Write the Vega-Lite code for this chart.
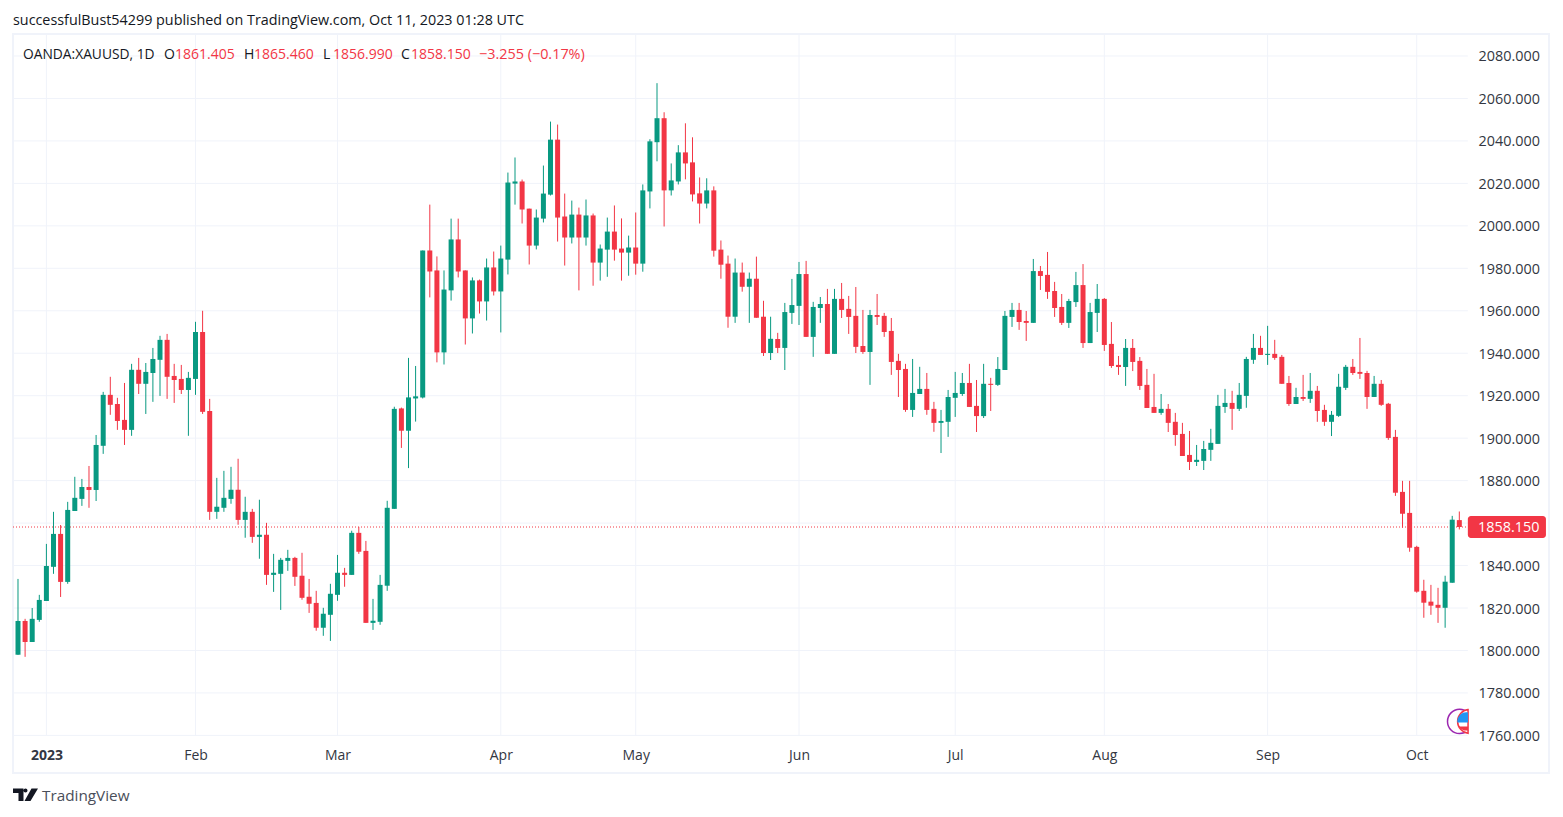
{
"$schema":"https://vega.github.io/schema/vega-lite/v6.json",
"autosize":"none","width":1536,"height":739,
"padding":{"left":13,"top":34,"right":14,"bottom":44},
"background":"white",
"config":{"view":{"stroke":"#f0f3fa","strokeWidth":2},"font":"Open Sans"},
"datasets":{
"levels":[{"p":1760},{"p":1780},{"p":1800},{"p":1820},{"p":1840},{"p":1860},{"p":1880},{"p":1900},{"p":1920},{"p":1940},{"p":1960},{"p":1980},{"p":2000},{"p":2020},{"p":2040},{"p":2060},{"p":2080}],
"months":[{"i":4},{"i":25},{"i":45},{"i":68},{"i":87},{"i":110},{"i":132},{"i":153},{"i":176},{"i":197}],
"candles":[
{"i":0,"date":"2022-12-27","o":1798,"h":1833.7,"l":1797.9,"c":1813.9},
{"i":1,"date":"2022-12-28","o":1813.9,"h":1814.9,"l":1797,"c":1804},
{"i":2,"date":"2022-12-29","o":1804,"h":1820,"l":1804,"c":1814.9},
{"i":3,"date":"2022-12-30","o":1814.4,"h":1826.2,"l":1813.5,"c":1823.8},
{"i":4,"date":"2023-01-03","o":1823.3,"h":1850.2,"l":1823.3,"c":1839.8},
{"i":5,"date":"2023-01-04","o":1839.4,"h":1865.3,"l":1836.1,"c":1854.9},
{"i":6,"date":"2023-01-05","o":1854.9,"h":1859.1,"l":1825.2,"c":1832.3},
{"i":7,"date":"2023-01-06","o":1832.3,"h":1870,"l":1831.4,"c":1866.2},
{"i":8,"date":"2023-01-09","o":1865.7,"h":1881.8,"l":1865.7,"c":1871.9},
{"i":9,"date":"2023-01-10","o":1871.4,"h":1880.8,"l":1868.1,"c":1877},
{"i":10,"date":"2023-01-11","o":1877,"h":1886.9,"l":1867.2,"c":1875.6},
{"i":11,"date":"2023-01-12","o":1875.6,"h":1901.5,"l":1870.4,"c":1896.8},
{"i":12,"date":"2023-01-13","o":1896.4,"h":1921.8,"l":1892.6,"c":1920.4},
{"i":13,"date":"2023-01-16","o":1920.4,"h":1928.9,"l":1911,"c":1915.7},
{"i":14,"date":"2023-01-17","o":1916.1,"h":1919,"l":1903.9,"c":1908.1},
{"i":15,"date":"2023-01-18","o":1908.6,"h":1926,"l":1896.8,"c":1903.9},
{"i":16,"date":"2023-01-19","o":1903.9,"h":1935,"l":1901.1,"c":1932.2},
{"i":17,"date":"2023-01-20","o":1932.2,"h":1937.8,"l":1920.8,"c":1925.6},
{"i":18,"date":"2023-01-23","o":1925.6,"h":1935.4,"l":1911.4,"c":1931.2},
{"i":19,"date":"2023-01-24","o":1930.7,"h":1942.5,"l":1917.1,"c":1937.3},
{"i":20,"date":"2023-01-25","o":1936.9,"h":1948.2,"l":1919.9,"c":1946.3},
{"i":21,"date":"2023-01-26","o":1946.3,"h":1949.1,"l":1918.5,"c":1928.9},
{"i":22,"date":"2023-01-27","o":1929.3,"h":1935,"l":1916.6,"c":1927.4},
{"i":23,"date":"2023-01-30","o":1927.9,"h":1934.5,"l":1920.8,"c":1922.7},
{"i":24,"date":"2023-01-31","o":1922.7,"h":1931.2,"l":1901.1,"c":1928.4},
{"i":25,"date":"2023-02-01","o":1927.9,"h":1954.8,"l":1920.4,"c":1950},
{"i":26,"date":"2023-02-02","o":1950,"h":1960,"l":1911.4,"c":1912.4},
{"i":27,"date":"2023-02-03","o":1912.8,"h":1918.5,"l":1861.5,"c":1865.3},
{"i":28,"date":"2023-02-06","o":1865.3,"h":1881.3,"l":1862,"c":1867.7},
{"i":29,"date":"2023-02-07","o":1867.2,"h":1884.6,"l":1865.3,"c":1871.9},
{"i":30,"date":"2023-02-08","o":1871.4,"h":1886.5,"l":1869.1,"c":1875.7},
{"i":31,"date":"2023-02-09","o":1875.7,"h":1890.3,"l":1859.2,"c":1861.5},
{"i":32,"date":"2023-02-10","o":1861.5,"h":1872.4,"l":1853.1,"c":1865.3},
{"i":33,"date":"2023-02-13","o":1865.3,"h":1866.7,"l":1850.7,"c":1853.5},
{"i":34,"date":"2023-02-14","o":1853.5,"h":1871,"l":1843.2,"c":1854.5},
{"i":35,"date":"2023-02-15","o":1854.5,"h":1860.1,"l":1830.9,"c":1835.6},
{"i":36,"date":"2023-02-16","o":1835.6,"h":1845.5,"l":1827.6,"c":1836.6},
{"i":37,"date":"2023-02-17","o":1836.1,"h":1843.6,"l":1819.1,"c":1842.7},
{"i":38,"date":"2023-02-20","o":1842.2,"h":1847.4,"l":1837.5,"c":1843.6},
{"i":39,"date":"2023-02-21","o":1843.6,"h":1844.1,"l":1830.4,"c":1834.7},
{"i":40,"date":"2023-02-22","o":1835.2,"h":1846,"l":1823.9,"c":1824.8},
{"i":41,"date":"2023-02-23","o":1825.3,"h":1833.7,"l":1817.7,"c":1822},
{"i":42,"date":"2023-02-24","o":1822.4,"h":1828.1,"l":1809.3,"c":1810.7},
{"i":43,"date":"2023-02-27","o":1810.7,"h":1820.1,"l":1806.9,"c":1817.3},
{"i":44,"date":"2023-02-28","o":1816.8,"h":1831.4,"l":1804.5,"c":1826.7},
{"i":45,"date":"2023-03-01","o":1826.2,"h":1845,"l":1823.4,"c":1836.6},
{"i":46,"date":"2023-03-02","o":1836.6,"h":1838.9,"l":1830,"c":1835.6},
{"i":47,"date":"2023-03-03","o":1835.6,"h":1856.4,"l":1835.6,"c":1855.4},
{"i":48,"date":"2023-03-06","o":1855.4,"h":1858.2,"l":1845.5,"c":1846.5},
{"i":49,"date":"2023-03-07","o":1846.9,"h":1851.6,"l":1813,"c":1813},
{"i":50,"date":"2023-03-08","o":1813,"h":1824.3,"l":1809.7,"c":1814},
{"i":51,"date":"2023-03-09","o":1813.5,"h":1835.6,"l":1812.1,"c":1830.9},
{"i":52,"date":"2023-03-10","o":1830.5,"h":1870.5,"l":1828.1,"c":1867.2},
{"i":53,"date":"2023-03-13","o":1866.7,"h":1914.8,"l":1866.7,"c":1913.8},
{"i":54,"date":"2023-03-14","o":1914,"h":1914.4,"l":1895.4,"c":1903.5},
{"i":55,"date":"2023-03-15","o":1903.5,"h":1937.8,"l":1885.9,"c":1919.2},
{"i":56,"date":"2023-03-16","o":1918.7,"h":1934,"l":1907.8,"c":1919.7},
{"i":57,"date":"2023-03-17","o":1919.2,"h":1988.4,"l":1918.7,"c":1988.4},
{"i":58,"date":"2023-03-20","o":1988.4,"h":2010,"l":1966.3,"c":1978.5},
{"i":59,"date":"2023-03-21","o":1979,"h":1985.6,"l":1935.7,"c":1940.4},
{"i":60,"date":"2023-03-22","o":1940.4,"h":1979,"l":1934.7,"c":1970},
{"i":61,"date":"2023-03-23","o":1969.6,"h":2003.4,"l":1964.8,"c":1993.6},
{"i":62,"date":"2023-03-24","o":1993.6,"h":2003.4,"l":1975.7,"c":1978.5},
{"i":63,"date":"2023-03-27","o":1979,"h":1979,"l":1944.1,"c":1956.4},
{"i":64,"date":"2023-03-28","o":1956.4,"h":1975.7,"l":1949.3,"c":1974.3},
{"i":65,"date":"2023-03-29","o":1974.3,"h":1974.7,"l":1958.7,"c":1964.4},
{"i":66,"date":"2023-03-30","o":1964.4,"h":1984.6,"l":1955.4,"c":1980.4},
{"i":67,"date":"2023-03-31","o":1980.4,"h":1987.9,"l":1967.2,"c":1969.1},
{"i":68,"date":"2023-04-03","o":1969.1,"h":1990.7,"l":1949.8,"c":1984.6},
{"i":69,"date":"2023-04-04","o":1984.1,"h":2025.1,"l":1977.1,"c":2020.4},
{"i":70,"date":"2023-04-05","o":2019.9,"h":2032.2,"l":2010,"c":2020.9},
{"i":71,"date":"2023-04-06","o":2020.9,"h":2021.8,"l":2001.1,"c":2007.7},
{"i":72,"date":"2023-04-10","o":2008.1,"h":2008.1,"l":1981.8,"c":1990.7},
{"i":73,"date":"2023-04-11","o":1990.7,"h":2007.7,"l":1988.9,"c":2003.9},
{"i":74,"date":"2023-04-12","o":2003.4,"h":2028.4,"l":2001.6,"c":2015.2},
{"i":75,"date":"2023-04-13","o":2014.7,"h":2049.1,"l":2014.3,"c":2040.6},
{"i":76,"date":"2023-04-14","o":2040.6,"h":2047.7,"l":1992.6,"c":2003.9},
{"i":77,"date":"2023-04-17","o":2004.4,"h":2015.2,"l":1981.3,"c":1994.5},
{"i":78,"date":"2023-04-18","o":1994.5,"h":2011.9,"l":1991.7,"c":2005.3},
{"i":79,"date":"2023-04-19","o":2005.3,"h":2008.6,"l":1969.6,"c":1994.5},
{"i":80,"date":"2023-04-20","o":1994.5,"h":2012.4,"l":1990.7,"c":2004.9},
{"i":81,"date":"2023-04-21","o":2004.9,"h":2005.8,"l":1971.8,"c":1982.7},
{"i":82,"date":"2023-04-24","o":1982.7,"h":1991.2,"l":1974.2,"c":1989.3},
{"i":83,"date":"2023-04-25","o":1988.8,"h":2003.9,"l":1976,"c":1997.3},
{"i":84,"date":"2023-04-26","o":1997.3,"h":2009.6,"l":1983.6,"c":1988.8},
{"i":85,"date":"2023-04-27","o":1989.3,"h":2003.5,"l":1974.2,"c":1987.4},
{"i":86,"date":"2023-04-28","o":1987.4,"h":1995.4,"l":1976.5,"c":1989.8},
{"i":87,"date":"2023-05-01","o":1989.8,"h":2006.3,"l":1977,"c":1982.2},
{"i":88,"date":"2023-05-02","o":1982.2,"h":2019.5,"l":1978.4,"c":2016.7},
{"i":89,"date":"2023-05-03","o":2016.2,"h":2040.8,"l":2008.2,"c":2039.8},
{"i":90,"date":"2023-05-04","o":2039.4,"h":2067.2,"l":2030.4,"c":2050.7},
{"i":91,"date":"2023-05-05","o":2050.7,"h":2053.5,"l":1999.7,"c":2016.7},
{"i":92,"date":"2023-05-08","o":2016.7,"h":2029.4,"l":2014.3,"c":2021.4},
{"i":93,"date":"2023-05-09","o":2020.9,"h":2038,"l":2019.5,"c":2034.6},
{"i":94,"date":"2023-05-10","o":2034.6,"h":2048.3,"l":2021.9,"c":2029.4},
{"i":95,"date":"2023-05-11","o":2029.9,"h":2041.7,"l":2011.5,"c":2014.8},
{"i":96,"date":"2023-05-12","o":2015.3,"h":2022.8,"l":2001.1,"c":2010.5},
{"i":97,"date":"2023-05-15","o":2010.5,"h":2022.4,"l":2008.2,"c":2016.7},
{"i":98,"date":"2023-05-16","o":2016.7,"h":2018.6,"l":1985.5,"c":1988.3},
{"i":99,"date":"2023-05-17","o":1988.8,"h":1993.1,"l":1975.1,"c":1981.7},
{"i":100,"date":"2023-05-18","o":1982.2,"h":1986,"l":1952,"c":1957.2},
{"i":101,"date":"2023-05-19","o":1957.2,"h":1984.6,"l":1954.3,"c":1978},
{"i":102,"date":"2023-05-22","o":1978,"h":1982.7,"l":1969,"c":1971.3},
{"i":103,"date":"2023-05-23","o":1971.3,"h":1978,"l":1954.3,"c":1975.1},
{"i":104,"date":"2023-05-24","o":1975.1,"h":1985.5,"l":1956.7,"c":1956.7},
{"i":105,"date":"2023-05-25","o":1957.2,"h":1964.7,"l":1938.7,"c":1940.1},
{"i":106,"date":"2023-05-26","o":1940.1,"h":1957.2,"l":1936.8,"c":1946.8},
{"i":107,"date":"2023-05-29","o":1946.7,"h":1949.6,"l":1940.1,"c":1942.5},
{"i":108,"date":"2023-05-30","o":1942.5,"h":1963.7,"l":1932.1,"c":1959.4},
{"i":109,"date":"2023-05-31","o":1959,"h":1975,"l":1953.8,"c":1962.7},
{"i":110,"date":"2023-06-01","o":1962.3,"h":1983,"l":1953.3,"c":1977.3},
{"i":111,"date":"2023-06-02","o":1977.3,"h":1983.5,"l":1947.7,"c":1947.7},
{"i":112,"date":"2023-06-05","o":1947.7,"h":1964.2,"l":1938.3,"c":1961.8},
{"i":113,"date":"2023-06-06","o":1961.3,"h":1966.5,"l":1954.3,"c":1963.2},
{"i":114,"date":"2023-06-07","o":1963.2,"h":1970.3,"l":1939.7,"c":1939.7},
{"i":115,"date":"2023-06-08","o":1939.7,"h":1970.3,"l":1939.7,"c":1965.6},
{"i":116,"date":"2023-06-09","o":1965.6,"h":1973.1,"l":1956.6,"c":1960.4},
{"i":117,"date":"2023-06-12","o":1960.9,"h":1967,"l":1949.1,"c":1957.1},
{"i":118,"date":"2023-06-13","o":1957.6,"h":1971.2,"l":1940.1,"c":1943},
{"i":119,"date":"2023-06-14","o":1943.4,"h":1960.4,"l":1939.7,"c":1940.6},
{"i":120,"date":"2023-06-15","o":1940.6,"h":1960.4,"l":1925.1,"c":1958},
{"i":121,"date":"2023-06-16","o":1958,"h":1967.9,"l":1953.3,"c":1957.1},
{"i":122,"date":"2023-06-19","o":1957.6,"h":1959,"l":1947.7,"c":1950},
{"i":123,"date":"2023-06-20","o":1950.5,"h":1956.6,"l":1929.8,"c":1935.9},
{"i":124,"date":"2023-06-21","o":1936.4,"h":1939.7,"l":1919.4,"c":1932.1},
{"i":125,"date":"2023-06-22","o":1932.6,"h":1935,"l":1912.4,"c":1913.3},
{"i":126,"date":"2023-06-23","o":1913.3,"h":1937.3,"l":1910,"c":1921.3},
{"i":127,"date":"2023-06-26","o":1920.8,"h":1933.6,"l":1920.8,"c":1923.2},
{"i":128,"date":"2023-06-27","o":1923.2,"h":1930.7,"l":1911,"c":1913.3},
{"i":129,"date":"2023-06-28","o":1913.8,"h":1917.1,"l":1903,"c":1907.2},
{"i":130,"date":"2023-06-29","o":1907.2,"h":1913.3,"l":1893,"c":1908.1},
{"i":131,"date":"2023-06-30","o":1907.7,"h":1922.7,"l":1900.6,"c":1919.4},
{"i":132,"date":"2023-07-03","o":1919,"h":1931.2,"l":1910,"c":1921.3},
{"i":133,"date":"2023-07-04","o":1920.8,"h":1930.7,"l":1919.9,"c":1926},
{"i":134,"date":"2023-07-05","o":1926,"h":1935,"l":1914.7,"c":1914.7},
{"i":135,"date":"2023-07-06","o":1915.2,"h":1927.4,"l":1902.9,"c":1910.4},
{"i":136,"date":"2023-07-07","o":1910.4,"h":1935,"l":1909.5,"c":1925.6},
{"i":137,"date":"2023-07-10","o":1925.6,"h":1928.4,"l":1912.8,"c":1925.1},
{"i":138,"date":"2023-07-11","o":1925.1,"h":1938.2,"l":1924.6,"c":1932.6},
{"i":139,"date":"2023-07-12","o":1932.1,"h":1959.9,"l":1932.1,"c":1957.6},
{"i":140,"date":"2023-07-13","o":1957.1,"h":1963.7,"l":1952.4,"c":1960.4},
{"i":141,"date":"2023-07-14","o":1960.4,"h":1963.7,"l":1951,"c":1954.7},
{"i":142,"date":"2023-07-17","o":1955.2,"h":1959.9,"l":1945.8,"c":1954.3},
{"i":143,"date":"2023-07-18","o":1954.3,"h":1984.4,"l":1954.3,"c":1978.7},
{"i":144,"date":"2023-07-19","o":1978.7,"h":1981.1,"l":1969.8,"c":1976.4},
{"i":145,"date":"2023-07-20","o":1976.9,"h":1987.7,"l":1965.6,"c":1968.9},
{"i":146,"date":"2023-07-21","o":1969.3,"h":1973.6,"l":1957.1,"c":1961.3},
{"i":147,"date":"2023-07-24","o":1961.8,"h":1967.9,"l":1953.3,"c":1954.3},
{"i":148,"date":"2023-07-25","o":1954.3,"h":1965.6,"l":1951.9,"c":1964.6},
{"i":149,"date":"2023-07-26","o":1964.1,"h":1978.3,"l":1961.8,"c":1972.1},
{"i":150,"date":"2023-07-27","o":1972.1,"h":1982,"l":1942.5,"c":1944.8},
{"i":151,"date":"2023-07-28","o":1944.8,"h":1963.7,"l":1944.8,"c":1959.4},
{"i":152,"date":"2023-07-31","o":1959,"h":1972.6,"l":1950,"c":1965.6},
{"i":153,"date":"2023-08-01","o":1965.6,"h":1966,"l":1941.1,"c":1943.9},
{"i":154,"date":"2023-08-02","o":1944.4,"h":1954.7,"l":1933.1,"c":1934},
{"i":155,"date":"2023-08-03","o":1934.5,"h":1938.7,"l":1929.8,"c":1933.5},
{"i":156,"date":"2023-08-04","o":1933.5,"h":1946.7,"l":1924.6,"c":1942.5},
{"i":157,"date":"2023-08-07","o":1942.5,"h":1946.7,"l":1931.6,"c":1935.9},
{"i":158,"date":"2023-08-08","o":1936.4,"h":1938.2,"l":1922.7,"c":1924.6},
{"i":159,"date":"2023-08-09","o":1925.1,"h":1932.6,"l":1914.2,"c":1914.2},
{"i":160,"date":"2023-08-10","o":1914.7,"h":1930.3,"l":1911.9,"c":1911.9},
{"i":161,"date":"2023-08-11","o":1911.9,"h":1920.8,"l":1911,"c":1913.8},
{"i":162,"date":"2023-08-14","o":1913.8,"h":1916.1,"l":1902.9,"c":1907.2},
{"i":163,"date":"2023-08-15","o":1907.7,"h":1911.9,"l":1896.4,"c":1901.5},
{"i":164,"date":"2023-08-16","o":1902,"h":1907.2,"l":1891.6,"c":1891.6},
{"i":165,"date":"2023-08-17","o":1892.1,"h":1903.4,"l":1885,"c":1888.8},
{"i":166,"date":"2023-08-18","o":1888.8,"h":1896.8,"l":1886.9,"c":1889.8},
{"i":167,"date":"2023-08-21","o":1889.3,"h":1898.7,"l":1885,"c":1894.9},
{"i":168,"date":"2023-08-22","o":1894.5,"h":1904.4,"l":1889.3,"c":1897.8},
{"i":169,"date":"2023-08-23","o":1897.3,"h":1920.4,"l":1897.3,"c":1915.2},
{"i":170,"date":"2023-08-24","o":1914.7,"h":1923.2,"l":1911.9,"c":1916.6},
{"i":171,"date":"2023-08-25","o":1916.6,"h":1922.3,"l":1903.9,"c":1913.8},
{"i":172,"date":"2023-08-28","o":1913.8,"h":1926,"l":1912.8,"c":1920.4},
{"i":173,"date":"2023-08-29","o":1919.9,"h":1938.3,"l":1914.3,"c":1937.3},
{"i":174,"date":"2023-08-30","o":1936.9,"h":1949.1,"l":1935,"c":1942.5},
{"i":175,"date":"2023-08-31","o":1942.5,"h":1948.2,"l":1939.2,"c":1939.2},
{"i":176,"date":"2023-09-01","o":1939.2,"h":1952.9,"l":1934.5,"c":1939.7},
{"i":177,"date":"2023-09-04","o":1939.7,"h":1946.3,"l":1936.9,"c":1937.8},
{"i":178,"date":"2023-09-05","o":1938.3,"h":1939.2,"l":1925.6,"c":1925.6},
{"i":179,"date":"2023-09-06","o":1926,"h":1929.3,"l":1915.2,"c":1916.1},
{"i":180,"date":"2023-09-07","o":1916.1,"h":1923.7,"l":1916.1,"c":1919.4},
{"i":181,"date":"2023-09-08","o":1919.4,"h":1929.8,"l":1917.5,"c":1918.5},
{"i":182,"date":"2023-09-11","o":1918.5,"h":1930.7,"l":1916.6,"c":1922.3},
{"i":183,"date":"2023-09-12","o":1922.3,"h":1924.6,"l":1907.7,"c":1912.8},
{"i":184,"date":"2023-09-13","o":1913.3,"h":1915.7,"l":1905.8,"c":1907.7},
{"i":185,"date":"2023-09-14","o":1907.7,"h":1912.8,"l":1901,"c":1911},
{"i":186,"date":"2023-09-15","o":1910.5,"h":1930.3,"l":1910,"c":1924.2},
{"i":187,"date":"2023-09-18","o":1923.7,"h":1934.5,"l":1922.7,"c":1933.6},
{"i":188,"date":"2023-09-19","o":1933.6,"h":1937.3,"l":1929.8,"c":1930.7},
{"i":189,"date":"2023-09-20","o":1931.2,"h":1947.2,"l":1927.9,"c":1930.3},
{"i":190,"date":"2023-09-21","o":1930.7,"h":1931.7,"l":1913.8,"c":1919.4},
{"i":191,"date":"2023-09-22","o":1919.4,"h":1929.3,"l":1919.4,"c":1925.6},
{"i":192,"date":"2023-09-25","o":1925.6,"h":1927.4,"l":1915.2,"c":1915.7},
{"i":193,"date":"2023-09-26","o":1916.2,"h":1916.6,"l":1899.2,"c":1900.1},
{"i":194,"date":"2023-09-27","o":1900.6,"h":1903.9,"l":1872.8,"c":1874.3},
{"i":195,"date":"2023-09-28","o":1874.7,"h":1879.9,"l":1857.8,"c":1864.4},
{"i":196,"date":"2023-09-29","o":1864.8,"h":1879.9,"l":1846.5,"c":1848.4},
{"i":197,"date":"2023-10-02","o":1848.8,"h":1849.3,"l":1827.2,"c":1827.7},
{"i":198,"date":"2023-10-03","o":1828.1,"h":1833.3,"l":1815.4,"c":1822.5},
{"i":199,"date":"2023-10-04","o":1823,"h":1830.9,"l":1816.8,"c":1821.1},
{"i":200,"date":"2023-10-05","o":1821.5,"h":1829.5,"l":1813,"c":1820.1},
{"i":201,"date":"2023-10-06","o":1820.1,"h":1835.2,"l":1810.7,"c":1832.4},
{"i":202,"date":"2023-10-09","o":1831.9,"h":1863.4,"l":1831.9,"c":1861.6},
{"i":203,"date":"2023-10-10","o":1861.405,"h":1865.46,"l":1856.99,"c":1858.15}
]},
"layer":[
{"data":{"name":"levels"},"mark":{"type":"rule","color":"#f0f3fa","strokeWidth":1},
 "encoding":{
  "x":{"datum":-0.704,"type":"quantitative","scale":{"domain":[-0.704,215.63],"nice":false,"zero":false,"padding":0},
   "axis":{"title":null,"orient":"bottom","values":[4,25,45,68,87,110,132,153,176,197],"grid":false,"domain":false,"ticks":false,
    "labelExpr":"{'4':'2023','25':'Feb','45':'Mar','68':'Apr','87':'May','110':'Jun','132':'Jul','153':'Aug','176':'Sep','197':'Oct'}[datum.value]",
    "labelFont":"Open Sans","labelFontSize":14,"labelColor":"#333742","labelPadding":-25,"labelBaseline":"top","labelFlush":false,"labelOverlap":false,
    "labelFontWeight":{"condition":{"test":"datum.value==4","value":"bold"},"value":"normal"}}},
  "x2":{"datum":204.2},
  "y":{"field":"p","type":"quantitative","scale":{"domain":[1742.29,2090.36],"nice":false,"zero":false,"padding":0},
   "axis":{"title":null,"orient":"right","values":[1760,1780,1800,1820,1840,1880,1900,1920,1940,1960,1980,2000,2020,2040,2060,2080],"format":".3f","grid":false,"domain":false,"ticks":false,
    "labelFont":"Open Sans","labelFontSize":14.4,"labelColor":"#333742","labelPadding":-71,"labelOffset":1,"labelAlign":"left","labelFlush":false,"labelOverlap":false}}
 }},
{"data":{"name":"months"},"mark":{"type":"rule","color":"#f0f3fa","strokeWidth":1},
 "encoding":{"x":{"field":"i","type":"quantitative"},"y":{"datum":1760},"y2":{"datum":2090.36}}},
{"mark":{"type":"rule","color":"#f23645","strokeWidth":1,"strokeDash":[1,2]},"data":{"values":[{"last":1858.15}]},
 "encoding":{"x":{"datum":-0.704},"x2":{"datum":204.2},"y":{"field":"last","type":"quantitative"}}},
{"data":{"name":"candles"},"mark":{"type":"rule","strokeWidth":1},
 "encoding":{"x":{"field":"i","type":"quantitative"},"y":{"field":"l","type":"quantitative"},"y2":{"field":"h"},
  "color":{"condition":{"test":"datum.c>=datum.o","value":"#089981"},"value":"#f23645"}}},
{"data":{"name":"candles"},"mark":{"type":"bar","size":5,"orient":"vertical"},
 "encoding":{"x":{"field":"i","type":"quantitative"},"y":{"field":"o","type":"quantitative"},"y2":{"field":"c"},
  "color":{"condition":{"test":"datum.c>=datum.o","value":"#089981"},"value":"#f23645"}}},
{"data":{"values":[{"last":1858.15}]},"mark":{"type":"bar","color":"#f23645","cornerRadius":3,"orient":"horizontal","size":22},
 "encoding":{"x":{"datum":204.2},"x2":{"datum":215.2},"y":{"field":"last","type":"quantitative"}}},
{"data":{"values":[{"last":1858.15}]},"mark":{"type":"text","align":"left","baseline":"middle","color":"white","font":"Open Sans","fontSize":14.4,"dy":1},
 "encoding":{"x":{"datum":205.63},"y":{"field":"last","type":"quantitative"},"text":{"field":"last","type":"quantitative","format":".3f"}}},
{"data":{"values":[{"a":1}]},"mark":{"type":"text","align":"left","baseline":"middle","color":"#131722","font":"Open Sans","fontSize":14.35},
 "encoding":{"x":{"datum":-0.704},"y":{"datum":2096.4},"text":{"value":"successfulBust54299 published on TradingView.com, Oct 11, 2023 01:28 UTC"}}},
{"data":{"values":[{"a":1}]},"mark":{"type":"text","align":"left","baseline":"middle","color":"#131722","font":"Open Sans","fontSize":13.8},
 "encoding":{"x":{"datum":0.7},"y":{"datum":2080.4},"text":{"value":"OANDA:XAUUSD, 1D"}}},
{"data":{"values":[{"a":1}]},"mark":{"type":"text","align":"left","baseline":"middle","color":"#131722","font":"Open Sans","fontSize":14},
 "encoding":{"x":{"datum":20.56},"y":{"datum":2080.4},"text":{"value":"O"}}},
{"data":{"values":[{"a":1}]},"mark":{"type":"text","align":"left","baseline":"middle","color":"#f23645","font":"Open Sans","fontSize":14},
 "encoding":{"x":{"datum":22.11},"y":{"datum":2080.4},"text":{"value":"1861.405"}}},
{"data":{"values":[{"a":1}]},"mark":{"type":"text","align":"left","baseline":"middle","color":"#131722","font":"Open Sans","fontSize":14},
 "encoding":{"x":{"datum":31.83},"y":{"datum":2080.4},"text":{"value":"H"}}},
{"data":{"values":[{"a":1}]},"mark":{"type":"text","align":"left","baseline":"middle","color":"#f23645","font":"Open Sans","fontSize":14},
 "encoding":{"x":{"datum":33.24},"y":{"datum":2080.4},"text":{"value":"1865.460"}}},
{"data":{"values":[{"a":1}]},"mark":{"type":"text","align":"left","baseline":"middle","color":"#131722","font":"Open Sans","fontSize":14},
 "encoding":{"x":{"datum":42.96},"y":{"datum":2080.4},"text":{"value":"L"}}},
{"data":{"values":[{"a":1}]},"mark":{"type":"text","align":"left","baseline":"middle","color":"#f23645","font":"Open Sans","fontSize":14},
 "encoding":{"x":{"datum":44.37},"y":{"datum":2080.4},"text":{"value":"1856.990"}}},
{"data":{"values":[{"a":1}]},"mark":{"type":"text","align":"left","baseline":"middle","color":"#131722","font":"Open Sans","fontSize":14},
 "encoding":{"x":{"datum":53.94},"y":{"datum":2080.4},"text":{"value":"C"}}},
{"data":{"values":[{"a":1}]},"mark":{"type":"text","align":"left","baseline":"middle","color":"#f23645","font":"Open Sans","fontSize":14},
 "encoding":{"x":{"datum":55.35},"y":{"datum":2080.4},"text":{"value":"1858.150"}}},
{"data":{"values":[{"a":1}]},"mark":{"type":"text","align":"left","baseline":"middle","color":"#f23645","font":"Open Sans","fontSize":14.4},
 "encoding":{"x":{"datum":64.93},"y":{"datum":2080.4},"text":{"value":"−3.255 (−0.17%)"}}},
{"data":{"values":[{"a":1}]},"mark":{"type":"text","align":"left","baseline":"middle","color":"#4a4e59","font":"Open Sans","fontSize":15.3},
 "encoding":{"x":{"datum":3.38},"y":{"datum":1731.4},"text":{"value":"TradingView"}}},
{"data":{"values":[{"a":1}]},"mark":{"type":"point","filled":true,"color":"#131722","opacity":1,"size":4,"strokeWidth":0,
  "shape":"M-12.5 -6.5 H-2 V6 H-7 V-2 H-12.5 Z M-2 -4.5 a2 2 0 1 0 4 0 a2 2 0 1 0 -4 0 Z M6 -6.5 H12.5 L5 6 H-1 Z"},
 "encoding":{"x":{"datum":1.056},"y":{"datum":1731.9}}},
{"data":{"values":[{"a":1}]},"mark":{"type":"point","filled":false,"stroke":"#9c27b0","opacity":1,"size":4,"strokeWidth":1.5,
  "shape":"M8.3 -8.9 A12.2 12.2 0 1 0 8.3 8.9"},
 "encoding":{"x":{"datum":203.06},"y":{"datum":1766.6}}},
{"data":{"values":[{"a":1}]},"mark":{"type":"point","filled":true,"color":"white","stroke":"#f23645","opacity":1,"size":4,"strokeWidth":1.5,
  "shape":"M1.7 -11.9 A12 12 0 0 0 1.7 11.9 Z"},
 "encoding":{"x":{"datum":203.99},"y":{"datum":1766.6}}},
{"data":{"values":[{"a":1}]},"mark":{"type":"point","filled":true,"color":"#2196f3","opacity":1,"size":4,"strokeWidth":0,
  "shape":"M1.7 -9 A9 9 0 0 0 -9 1 H1.7 Z"},
 "encoding":{"x":{"datum":203.99},"y":{"datum":1766.6}}},
{"data":{"values":[{"a":1}]},"mark":{"type":"point","filled":true,"color":"#f23645","opacity":1,"size":4,"strokeWidth":0,
  "shape":"M-7.6 5 A9 9 0 0 0 1.7 9 V5 Z"},
 "encoding":{"x":{"datum":203.99},"y":{"datum":1766.6}}}
]
}
